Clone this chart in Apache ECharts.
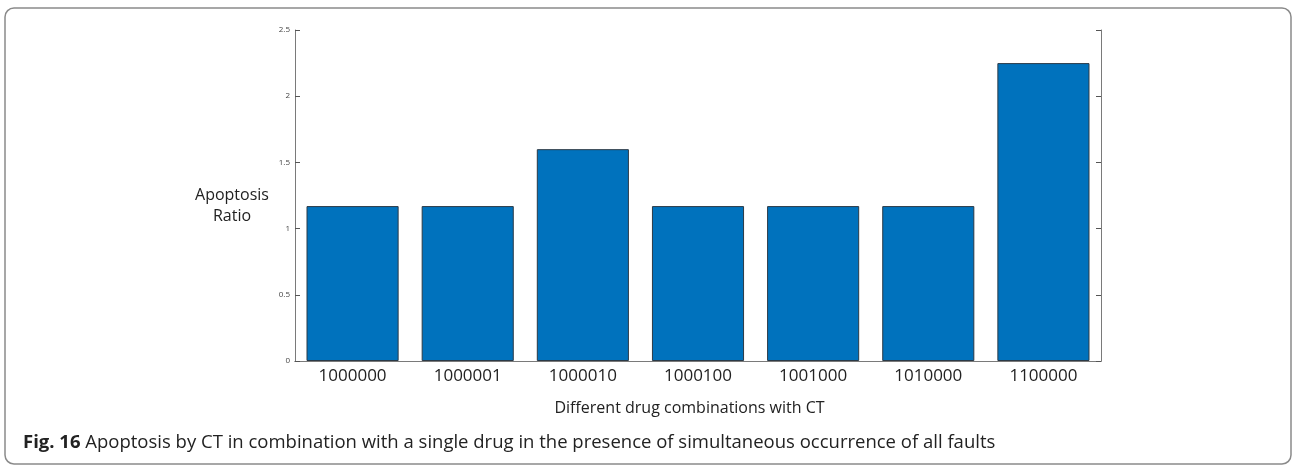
<!DOCTYPE html>
<html><head><meta charset="utf-8">
<script src="https://cdn.jsdelivr.net/npm/echarts@6/dist/echarts.min.js"></script>
<style>html,body{margin:0;padding:0;background:#fff}#c{width:1292px;height:467px}</style>
</head><body><div id="c"></div>
<script>
const categories = ['1000000','1000001','1000010','1000100','1001000','1010000','1100000'];
const apoptosisRatio = [1.17, 1.17, 1.6, 1.17, 1.17, 1.17, 2.25];
const yTicks = [0, 0.5, 1, 1.5, 2, 2.5];

const chart = echarts.init(document.getElementById('c'));
const axisGray = '#7a7a7a';
chart.setOption({
  animation: false,
  grid: {left: 295, top: 30, width: 806, height: 331},
  xAxis: [{
    type: 'category', data: categories, position: 'bottom',
    axisLine: {lineStyle: {color: axisGray, width: 1}},
    axisTick: {inside: true, alignWithLabel: true, length: 5, lineStyle: {color: '#555'}},
    axisLabel: {color: '#222', fontSize: 17, fontFamily: 'Open Sans', margin: 7},
    name: 'Different drug combinations with CT', nameLocation: 'middle', nameGap: 39,
    nameTextStyle: {color: '#222', fontSize: 16, fontFamily: 'Open Sans', padding: [0, 17, 0, 0]}
  }, {
    type: 'category', data: categories, position: 'top',
    axisLine: {lineStyle: {color: axisGray, width: 1}},
    axisTick: {inside: true, alignWithLabel: true, length: 5, lineStyle: {color: '#555'}},
    axisLabel: {show: false}
  }],
  yAxis: [{
    type: 'value', min: 0, max: 2.5, interval: 0.5, position: 'left',
    axisLine: {show: true, lineStyle: {color: axisGray, width: 1}},
    axisTick: {show: true, inside: true, length: 5, lineStyle: {color: '#555'}},
    splitLine: {show: false},
    axisLabel: {color: '#444', fontSize: 8, fontFamily: 'Open Sans', margin: 5,
      formatter: v => yTicks.includes(v) ? String(v) : ''}
  }, {
    type: 'value', min: 0, max: 2.5, interval: 0.5, position: 'right',
    axisLine: {show: true, lineStyle: {color: axisGray, width: 1}},
    axisTick: {show: true, inside: true, length: 5, lineStyle: {color: '#555'}},
    splitLine: {show: false}, axisLabel: {show: false}
  }],
  series: [{
    type: 'bar', data: apoptosisRatio, barWidth: '80%',
    itemStyle: {color: '#0072BD', borderColor: '#2b3a47', borderWidth: 1}
  }],
  graphic: [
    {type: 'rect', shape: {x: 5, y: 8, width: 1286, height: 456, r: 9},
     style: {fill: 'none', stroke: '#8a8a8a', lineWidth: 1.5}},
    {type: 'text', x: 232, y: 206, style: {text: 'Apoptosis\nRatio', align: 'center', verticalAlign: 'middle',
      fill: '#222', fontSize: 16, fontFamily: 'Open Sans', lineHeight: 21}},
    {type: 'text', x: 23, y: 443, style: {text: '{b|Fig. 16} Apoptosis by CT in combination with a single drug in the presence of simultaneous occurrence of all faults',
      verticalAlign: 'middle', fill: '#222', fontSize: 18.5, fontFamily: 'Open Sans',
      rich: {b: {fontWeight: 'bold', fontSize: 18.5, fontFamily: 'Open Sans', fill: '#222'}}}}
  ]
});
</script></body></html>
